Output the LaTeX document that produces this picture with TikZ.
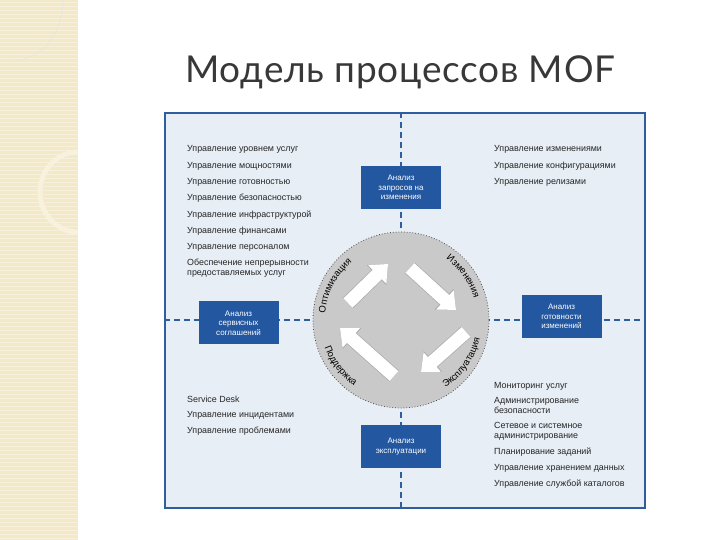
\documentclass[tikz,border=0pt]{standalone}
\usepackage{fontspec}
\setmainfont{Liberation Sans}
\newfontfamily\titlefont[LetterSpace=2]{Lato}
\usetikzlibrary{arrows.meta,decorations.text}
\definecolor{frameblue}{HTML}{2E5E9E}
\definecolor{boxblue}{HTML}{2357A0}
\definecolor{panel}{HTML}{E8EEF6}
\definecolor{strip}{HTML}{F3E8C8}
\definecolor{disc}{HTML}{C9C9C9}
\tikzset{
  procbox/.style={fill=boxblue,text=white,font=\fontsize{8}{9.5}\selectfont,align=center,minimum width=80pt,minimum height=43pt,inner sep=1pt},
  item/.style={anchor=west,font=\fontsize{8.9}{10}\selectfont,align=left,inner sep=0pt,text=black!85},
  axis/.style={frameblue,line width=1.4pt,dash pattern=on 6pt off 4pt},
  flow/.style={draw=white,line width=13pt,-{Triangle[length=15pt,width=25pt]}},
  flowedge/.style={draw=gray!65,line width=14.5pt,-{Triangle[length=16pt,width=27pt]}},
  arclabel/.style={decorate,decoration={text along path,text align=center,text={|\fontsize{9.5}{10}\selectfont|#1}}}
}
\begin{document}
\begin{tikzpicture}[x=1pt,y=1pt]
\useasboundingbox (0,0) rectangle (720,540);
\fill[white] (0,0) rectangle (720,540);
% left decorative strip
\fill[strip] (0,0) rectangle (78,540);
\foreach \yy in {2,6,...,538} \draw[white,opacity=0.35,line width=0.6pt] (0,\yy) -- (78,\yy);
\draw[white!40!strip,line width=5pt] (78,388) arc (90:270:38 and 40);
\draw[black!10,line width=0.5pt] (78,471) -- (0,471);
\draw[black!10,line width=0.5pt] (63,540) arc (0:-90:48 and 60);
% title
\node[anchor=base west,font=\titlefont\fontsize{37}{40}\selectfont,text=black!78,inner sep=0pt] (title) at (185,457) {Модель процессов MOF};
% panel
\node[draw=frameblue,line width=2.5pt,fill=panel,minimum width=480pt,minimum height=395pt,inner sep=0pt] (panel) at (405,229.5) {};
\coordinate (c) at (401,220);
\draw[axis] (panel.north -| c) -- (panel.south -| c);
\draw[axis] (panel.west |- c) -- (panel.east |- c);
% disc
\node[circle,fill=disc,draw=black!70,dotted,line width=0.8pt,minimum size=176pt,inner sep=0pt] (disc) at (c) {};
% arrows
\coordinate (a1s) at (348,237); \coordinate (a1e) at (388,276);
\coordinate (a2s) at (410,272); \coordinate (a2e) at (456,230);
\coordinate (a3s) at (466,208); \coordinate (a3e) at (421,168);
\coordinate (a4s) at (394,164); \coordinate (a4e) at (340,212);
\foreach \s/\e in {a1s/a1e,a2s/a2e,a3s/a3e,a4s/a4e}{
  \draw[flowedge] (\s) -- (\e);
  \draw[flow] (\s) -- (\e);
}
% curved labels
\path[arclabel=Оптимизация] (c) ++(200:76) arc (200:105:76);
\path[arclabel=Изменения] (c) ++(75:76) arc (75:-5:76);
\path[arclabel=Эксплуатация] (c) ++(-78:81) arc (-78:8:81);
\path[arclabel=Поддержка] (c) ++(172:81) arc (172:262:81);
% boxes
\node[procbox] (top) at (401,352.5) {Анализ\\запросов на\\изменения};
\node[procbox] (left) at (238.5,217) {Анализ\\сервисных\\соглашений};
\node[procbox] (right) at (561.5,223.5) {Анализ\\готовности\\изменений};
\node[procbox] (bottom) at (401,93.5) {Анализ\\эксплуатации};
% lists
\node[item] (l1) at (187,391) {Управление уровнем услуг};
\node[item] (l2) at (187,374) {Управление мощностями};
\node[item] (l3) at (187,358) {Управление готовностью};
\node[item] (l4) at (187,342) {Управление безопасностью};
\node[item] (l5) at (187,325) {Управление инфраструктурой};
\node[item] (l6) at (187,309) {Управление финансами};
\node[item] (l7) at (187,293) {Управление персоналом};
\node[item] (l8) at (187,272) {Обеспечение непрерывности\\предоставляемых услуг};
\node[item] (r1) at (494,391) {Управление изменениями};
\node[item] (r2) at (494,374) {Управление конфигурациями};
\node[item] (r3) at (494,358) {Управление релизами};
\node[item] (b1) at (187,141) {Service Desk};
\node[item] (b2) at (187,125) {Управление инцидентами};
\node[item] (b3) at (187,109) {Управление проблемами};
\node[item] (d1) at (494,154) {Мониторинг услуг};
\node[item] (d2) at (494,135) {Администрирование\\безопасности};
\node[item] (d3) at (494,109) {Сетевое и системное\\администрирование};
\node[item] (d4) at (494,88) {Планирование заданий};
\node[item] (d5) at (494,72) {Управление хранением данных};
\node[item] (d6) at (494,56) {Управление службой каталогов};
\end{tikzpicture}
\end{document}
